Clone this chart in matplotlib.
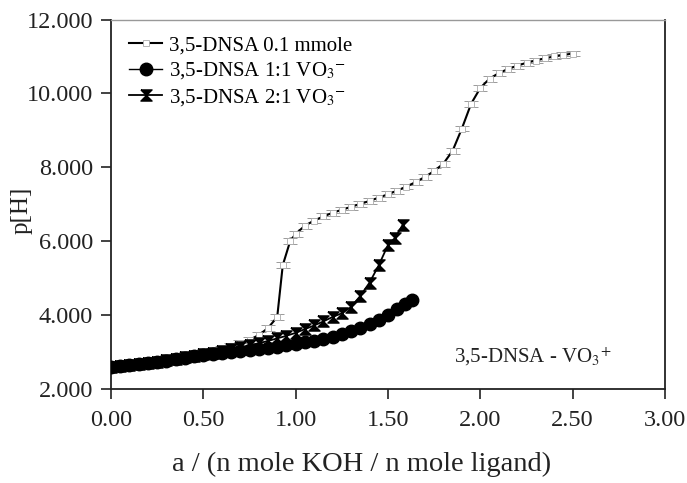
import numpy as np
import matplotlib
matplotlib.use("Agg")
import matplotlib.pyplot as plt
from matplotlib.ticker import FormatStrFormatter, MultipleLocator

plt.rcParams['font.family'] = ['Liberation Serif', 'DejaVu Serif']
plt.rcParams['mathtext.fontset'] = 'stix'

### Data ###
# 3,5-DNSA 0.1 mmole
x_lig = [0.00, 0.05, 0.10, 0.15, 0.20, 0.25, 0.30, 0.35, 0.40, 0.45, 0.50, 0.55, 0.60,
         0.65, 0.70, 0.75, 0.80, 0.85, 0.90, 0.93, 0.97, 1.00, 1.05, 1.10, 1.15, 1.20,
         1.25, 1.30, 1.35, 1.40, 1.45, 1.50, 1.55, 1.60, 1.65, 1.70, 1.75, 1.80, 1.85,
         1.90, 1.95, 2.00, 2.05, 2.10, 2.15, 2.20, 2.25, 2.30, 2.35, 2.40, 2.45, 2.50]
p_lig = [2.60, 2.62, 2.65, 2.68, 2.72, 2.76, 2.80, 2.84, 2.88, 2.93, 2.98, 3.03, 3.09,
         3.16, 3.24, 3.33, 3.46, 3.65, 3.95, 5.35, 6.00, 6.20, 6.42, 6.56, 6.67, 6.77,
         6.85, 6.93, 7.01, 7.09, 7.18, 7.27, 7.37, 7.48, 7.60, 7.74, 7.90, 8.10, 8.45,
         9.05, 9.72, 10.15, 10.40, 10.55, 10.66, 10.75, 10.83, 10.89, 10.95, 11.00, 11.04, 11.08]

# 3,5-DNSA 1:1 VO3-
x_11 = [0.00, 0.05, 0.10, 0.15, 0.20, 0.25, 0.30, 0.35, 0.40, 0.45, 0.50, 0.55, 0.60,
        0.65, 0.70, 0.75, 0.80, 0.85, 0.90, 0.95, 1.00, 1.05, 1.10, 1.15, 1.20, 1.25,
        1.30, 1.35, 1.40, 1.45, 1.50, 1.55, 1.59, 1.63]
p_11 = [2.60, 2.62, 2.64, 2.67, 2.70, 2.73, 2.76, 2.80, 2.84, 2.88, 2.91, 2.94, 2.97,
        3.00, 3.03, 3.06, 3.09, 3.12, 3.15, 3.19, 3.23, 3.27, 3.31, 3.36, 3.42, 3.49,
        3.57, 3.66, 3.76, 3.88, 4.01, 4.16, 4.30, 4.41]

# 3,5-DNSA 2:1 VO3-
x_21 = [0.00, 0.05, 0.10, 0.15, 0.20, 0.25, 0.30, 0.35, 0.40, 0.45, 0.50, 0.55, 0.60,
        0.65, 0.70, 0.75, 0.80, 0.85, 0.90, 0.95, 1.00, 1.05, 1.10, 1.15, 1.20, 1.25,
        1.30, 1.35, 1.40, 1.45, 1.50, 1.54, 1.58]
p_21 = [2.60, 2.62, 2.65, 2.68, 2.71, 2.74, 2.78, 2.82, 2.86, 2.90, 2.94, 2.98, 3.03,
        3.08, 3.13, 3.18, 3.24, 3.30, 3.37, 3.44, 3.52, 3.62, 3.72, 3.83, 3.95, 4.05,
        4.22, 4.52, 4.88, 5.35, 5.90, 6.10, 6.45]

labels = ['3,5-DNSA 0.1 mmole', r'3,5-DNSA 1:1 VO$_3$$^{-}$', r'3,5-DNSA 2:1 VO$_3$$^{-}$']

bowtie = [(-1, 1), (1, 1), (-1, -1), (1, -1), (-1, 1)]

fig = plt.figure(figsize=(6.87, 4.83), dpi=100)
ax = fig.add_axes([0.1616, 0.1946, 0.8064, 0.765])

ax.errorbar(x_lig, p_lig, yerr=0.08, fmt='none', ecolor='#9a9a9a', elinewidth=0.6,
            capsize=5, capthick=0.7, zorder=2)
ax.plot(x_lig, p_lig, color='black', lw=1.5, marker='s', ms=5, mfc='white',
        mec='#aaaaaa', mew=0.6, label=labels[0], zorder=3)
ax.plot(x_11, p_11, color='black', lw=1.0, marker='o', ms=9, mfc='black',
        mec='black', label=labels[1], zorder=4)
ax.plot(x_21, p_21, color='black', lw=1.3, marker=bowtie, ms=8, mfc='black',
        mec='black', label=labels[2], zorder=5)

ax.set_xlim(0, 3)
ax.set_ylim(2, 12)
ax.xaxis.set_major_locator(MultipleLocator(0.5))
ax.yaxis.set_major_locator(MultipleLocator(2))
ax.xaxis.set_major_formatter(FormatStrFormatter('%.2f'))
ax.yaxis.set_major_formatter(FormatStrFormatter('%.3f'))
ax.tick_params(direction='out', length=7, width=1.2, labelsize=17.5, colors='#222222')
ax.tick_params(axis='x', pad=8)
ax.tick_params(axis='y', pad=6)

for s in ['left', 'bottom', 'right']:
    ax.spines[s].set_linewidth(1.3)
    ax.spines[s].set_color('#222222')
ax.spines['top'].set_color('#999999')
ax.spines['top'].set_linewidth(1.0)

ax.set_xlabel('a / (n mole KOH / n mole ligand)', fontsize=20.5, color='#222222')
ax.xaxis.set_label_coords(0.453, -0.17)
ax.set_ylabel('p[H]', fontsize=18, color='#222222')
ax.yaxis.set_label_coords(-0.141, 0.484)

ax.text(1.86, 2.87, r'3,5-DNSA - VO$_3$$^{+}$', fontsize=15, color='#222222', va='center')

ax.legend(loc='upper left', bbox_to_anchor=(0.01, 0.99), frameon=False, fontsize=15,
          handlelength=1.6, handletextpad=0.3, labelspacing=0.25, borderaxespad=0.2)

fig.savefig('out.png', dpi=100)
